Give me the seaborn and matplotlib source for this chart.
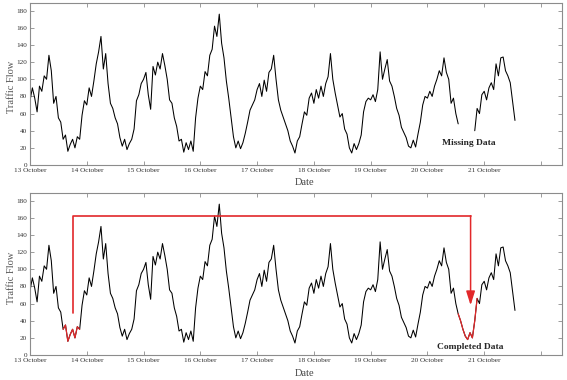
import numpy as np
import pandas as pd
import matplotlib
matplotlib.use('Agg')
import matplotlib.pyplot as plt
import seaborn as sns

# ---------------- data (hourly traffic flow, 0h..23h each day) ----------------
day_labels = ['13 October', '14 October', '15 October', '16 October', '17 October',
              '18 October', '19 October', '20 October', '21 October', '']

oct13 = [75, 90, 78, 62, 92, 86, 104, 100, 128, 110, 72, 80,
         55, 50, 30, 35, 16, 24, 30, 20, 33, 30, 58, 75]
oct14 = [70, 90, 80, 98, 118, 132, 150, 112, 130, 95, 72, 66,
         55, 48, 32, 22, 30, 18, 25, 30, 42, 75, 82, 95]
oct15 = [100, 108, 82, 65, 115, 105, 120, 112, 130, 116, 100, 76,
         72, 55, 45, 28, 30, 15, 26, 18, 28, 16, 55, 78]
oct16 = [92, 88, 109, 104, 128, 135, 162, 150, 176, 142, 125, 98,
         78, 55, 33, 20, 28, 19, 26, 37, 50, 64, 70, 76]
oct17 = [88, 95, 80, 99, 86, 108, 112, 128, 100, 76, 64, 56,
         48, 40, 28, 22, 14, 28, 33, 48, 62, 58, 78, 84]
oct18 = [72, 88, 78, 92, 80, 95, 103, 130, 100, 84, 70, 56,
         60, 42, 36, 20, 14, 25, 18, 25, 35, 62, 74, 78]
oct19 = [76, 82, 74, 88, 132, 100, 112, 123, 98, 92, 80, 66,
         58, 44, 38, 32, 22, 20, 29, 21, 36, 50, 70, 80]
oct20_am = [78, 86, 80, 92, 100, 110, 104, 125, 108, 100, 72, 78, 60, 48]
gap_20oct = [40, 30, 22, 18, 26, 20]          # 14h-19h, missing in the raw series
oct20_pm = [40, 66, 60, 82]
oct21 = [86, 76, 90, 96, 88, 118, 104, 125, 126, 110, 104, 96, 74, 52]

filled_spans = [(14, 21), (7 * 24 + 13, 7 * 24 + 21)]   # hours shown as completed (red)

completed = np.array(oct13 + oct14 + oct15 + oct16 + oct17 + oct18 + oct19
                     + oct20_am + gap_20oct + oct20_pm + oct21, dtype=float)
raw = completed.copy()
gap_start = 7 * 24 + len(oct20_am)
raw[gap_start:gap_start + len(gap_20oct)] = np.nan

df = pd.DataFrame({'day': np.arange(len(completed)) / 24.0,
                   'raw': raw, 'completed': completed})

# ---------------- style ----------------
sns.set_style('ticks')
plt.rcParams['font.family'] = ['Liberation Serif', 'DejaVu Serif']
RED = '#e2282a'
GREY = '#8c8c8c'

fig = plt.figure(figsize=(5.67, 3.8), dpi=100)
ax1 = fig.add_axes([30 / 567, 1 - 165 / 380, 532 / 567, 162 / 380])
ax2 = fig.add_axes([30 / 567, 1 - 355 / 380, 532 / 567, 162 / 380])

# top: raw series with a gap
before = df.iloc[:gap_start]
after = df.iloc[gap_start + len(gap_20oct):]
sns.lineplot(data=before, x='day', y='raw', ax=ax1, color='black', lw=0.75)
sns.lineplot(data=after, x='day', y='raw', ax=ax1, color='black', lw=0.75)
ax1.text(7.73, 25.5, 'Missing Data', ha='center', va='center',
         fontsize=6.8, fontweight='bold')

# bottom: completed series, filled part in red
sns.lineplot(data=df, x='day', y='completed', ax=ax2, color='black', lw=0.75)
for a, b in filled_spans:
    sns.lineplot(data=df.iloc[a:b + 1], x='day', y='completed', ax=ax2,
                 color=RED, lw=0.9)
ax2.plot([0.75, 0.75, 7.76], [49, 162.5, 162.5], color=RED, lw=1.2)
ax2.annotate('', xy=(7.76, 58), xytext=(7.76, 162.5),
             arrowprops=dict(arrowstyle='-|>,head_length=0.7,head_width=0.22',
                             color=RED, lw=1.1, mutation_scale=12,
                             shrinkA=0, shrinkB=0))
ax2.text(7.75, 9.3, 'Completed Data', ha='center', va='center',
         fontsize=6.8, fontweight='bold')

for ax in (ax1, ax2):
    ax.set_xlim(0, 9.37)
    ax.set_ylim(0, 189)
    ax.set_xticks(range(len(day_labels)))
    ax.set_xticklabels(day_labels)
    ax.set_yticks(range(0, 181, 20))
    ax.set_xlabel('')
    ax.set_ylabel('')
    ax.tick_params(direction='in', top=True, right=True, length=3, width=0.6,
                   color=GREY, labelcolor='#333333', labelsize=5.2, pad=2)
    for s in ax.spines.values():
        s.set_color(GREY)
        s.set_linewidth(0.8)

for y_lab, y_date in ((0.771, 0.521), (0.268, 0.016)):
    fig.text(12 / 567, y_lab, 'Traffic Flow', rotation=90, ha='center',
             va='center', fontsize=7.5, color='#555555')
    fig.text(305 / 567, y_date, 'Date', ha='center', va='center',
             fontsize=7.5, color='#444444')

fig.savefig('out.png', dpi=100)
